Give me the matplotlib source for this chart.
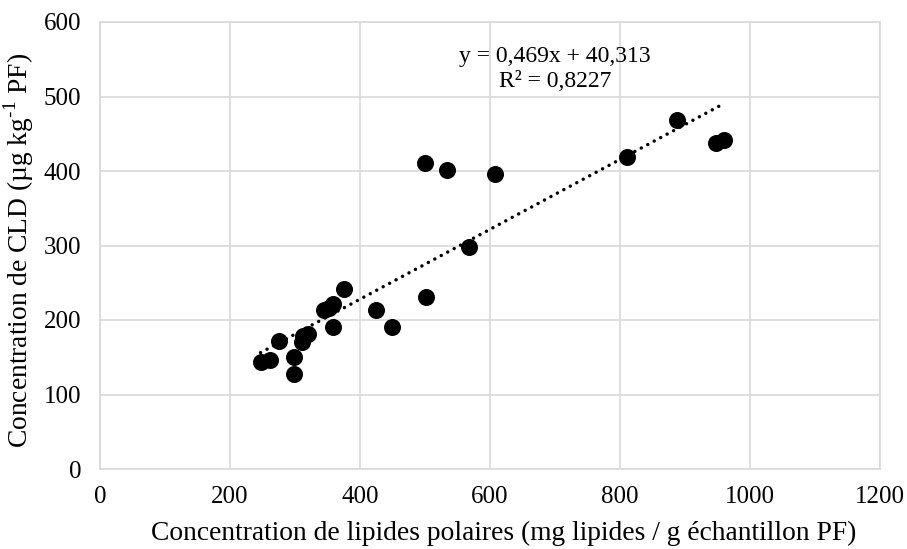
import matplotlib
matplotlib.use("Agg")
import matplotlib.pyplot as plt
import numpy as np

x_vals = [247, 261, 275, 299, 299, 311, 313, 320, 345, 352, 359, 358, 376, 425, 450, 502,
          500, 534, 607, 567, 811, 888, 947, 960]
y_vals = [143, 146, 172, 150, 127, 171, 178, 181, 213, 216, 221, 191, 241, 214, 191, 231,
          411, 401, 396, 298, 419, 468, 437, 442]
slope = 0.469
intercept = 40.313
eq_text = "y = 0,469x + 40,313\nR² = 0,8227"
x_label = "Concentration de lipides polaires (mg lipides / g échantillon PF)"
y_label = r"Concentration de CLD (µg kg$^{\text{-1}}$ PF)"

plt.rcParams['font.family'] = ['Liberation Serif', 'DejaVu Serif']
plt.rcParams['mathtext.fontset'] = 'custom'
plt.rcParams['mathtext.rm'] = 'Liberation Serif'

fig = plt.figure(figsize=(9.07, 5.49), dpi=100)
ax = fig.add_axes([100/907, 1-469/549, 780/907, 447/549])

ax.scatter(x_vals, y_vals, s=150, color='black', zorder=3, linewidths=0)
xs = np.array([min(x_vals), max(x_vals)])
ax.plot(xs, slope*xs + intercept, linestyle=(0, (0.01, 2.1)), color='black', linewidth=2.5,
        dash_capstyle='round', zorder=2)

ax.set_xlim(0, 1200)
ax.set_ylim(0, 600)
ax.set_xticks(np.arange(0, 1201, 200))
ax.set_yticks(np.arange(0, 601, 100))
ax.grid(True, color='#d9d9d9', linewidth=1.2)
ax.set_axisbelow(True)
for s in ax.spines.values():
    s.set_color('#d9d9d9')
    s.set_linewidth(1.2)
ax.tick_params(axis='y', length=0, labelsize=18, pad=13.5, colors='black')
ax.tick_params(axis='x', length=0, labelsize=18, pad=12.5, colors='black')
ax.set_xlabel(x_label, fontsize=19.8, labelpad=9)
ax.set_ylabel(y_label, fontsize=19.8)
ax.xaxis.set_label_coords(0.517, -0.117)
ax.yaxis.set_label_coords(-0.082, 0.49)

ax.text(700, 537, eq_text, ha='center', va='center', fontsize=17, linespacing=1.2)

fig.savefig("out.png", dpi=100)
